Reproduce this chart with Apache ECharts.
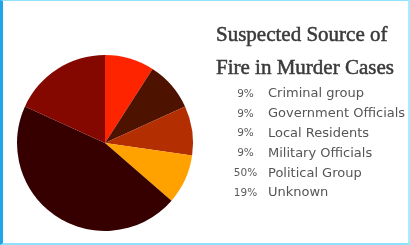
<!DOCTYPE html>
<html><head><meta charset="utf-8">
<script src="https://cdn.jsdelivr.net/npm/echarts@6/dist/echarts.min.js"></script>
<style>
html,body{margin:0;padding:0;background:#fff;}
#wrap{position:absolute;left:0;top:0;width:410px;height:245px;box-sizing:border-box;border-left:3px solid #1ea6e6;border-top:1px solid #8fe0fb;border-right:2px solid #a8ecfc;border-bottom:2px solid #8fe0fb;}
#c{position:absolute;left:0;top:0;width:410px;height:245px;}
</style></head>
<body><div id="wrap"></div><div id="c"></div>
<script>
const titleText = "Suspected Source of\nFire in Murder Cases";
const categories = ["Criminal group","Government Officials","Local Residents","Military Officials","Political Group","Unknown"];
const shares = [9.1, 9.1, 9.1, 9.1, 45.5, 18.2];
const legendPercents = ["9%","9%","9%","9%","50%","19%"];
const colors = ["#ff2400","#4e1200","#b32e00","#ffa200","#360000","#850800"];

const chart = echarts.init(document.getElementById('c'), null, {renderer:'canvas'});
chart.setOption({
  animation:false,
  title:{text:titleText,left:211,top:14,textStyle:{fontFamily:'Liberation Serif',fontSize:21,fontWeight:'normal',color:'#3a3a3a',lineHeight:33,textBorderColor:'#3a3a3a',textBorderWidth:0.5}},
  legend:{
    orient:'vertical',left:218,top:82,itemGap:5.8,itemWidth:0,itemHeight:14,icon:'none',selectedMode:false,
    data:categories,
    formatter:function(name){const i=categories.indexOf(name);return '{p|'+legendPercents[i]+'}{n|'+name+'}';},
    textStyle:{fontFamily:'DejaVu Sans',fontSize:13,color:'#555',lineHeight:14,
      rich:{p:{width:35,align:'right',fontFamily:'DejaVu Sans',fontSize:10.5,color:'#5a5a5a',lineHeight:14},n:{padding:[0,0,0,5],fontFamily:'DejaVu Sans',fontSize:13,color:'#555',lineHeight:14}}}
  },
  series:[{type:'pie',center:[105,143],radius:88,startAngle:90,clockwise:true,label:{show:false},labelLine:{show:false},
    emphasis:{disabled:true},
    data:categories.map((n,i)=>({name:n,value:shares[i],itemStyle:{color:colors[i]}}))}]
});
</script></body></html>
